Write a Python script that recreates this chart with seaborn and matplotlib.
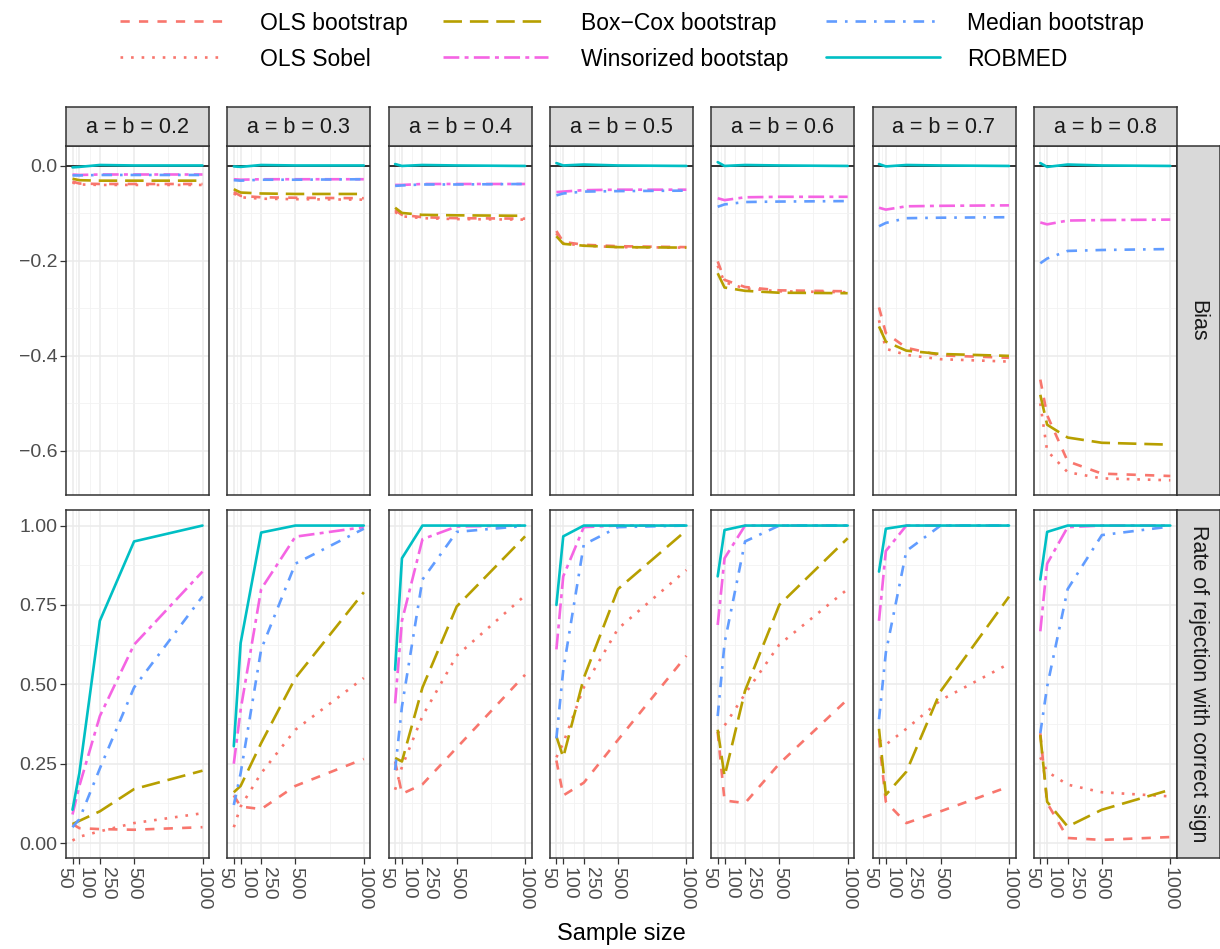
import numpy as np
import pandas as pd
import matplotlib
matplotlib.use("Agg")
import matplotlib.pyplot as plt
from matplotlib.lines import Line2D
from matplotlib.transforms import ScaledTranslation
import seaborn as sns

# ---------------------------------------------------------------- data
sample_sizes = [50, 100, 250, 500, 1000]
effect_sizes = [0.2, 0.3, 0.4, 0.5, 0.6, 0.7, 0.8]
strip_labels = [f"a = b = {e:.1f}" for e in effect_sizes]
methods = ["OLS bootstrap", "OLS Sobel", "Box\u2212Cox bootstrap",
           "Winsorized bootstap", "Median bootstrap", "ROBMED"]
row_labels = ["Bias", "Rate of rejection with correct sign"]

# bias: one list per effect size, values over sample_sizes
bias_ols_boot = [[-0.033, -0.037, -0.038, -0.038, -0.038],
                 [-0.055, -0.063, -0.066, -0.067, -0.068],
                 [-0.093, -0.103, -0.108, -0.110, -0.111],
                 [-0.137, -0.160, -0.166, -0.169, -0.171],
                 [-0.201, -0.240, -0.255, -0.262, -0.264],
                 [-0.298, -0.352, -0.383, -0.399, -0.404],
                 [-0.450, -0.525, -0.622, -0.648, -0.653]]
bias_ols_sobel = [[-0.035, -0.039, -0.040, -0.040, -0.040],
                  [-0.058, -0.066, -0.069, -0.070, -0.071],
                  [-0.097, -0.106, -0.110, -0.112, -0.113],
                  [-0.142, -0.163, -0.168, -0.171, -0.172],
                  [-0.210, -0.245, -0.258, -0.264, -0.266],
                  [-0.325, -0.385, -0.398, -0.407, -0.412],
                  [-0.500, -0.600, -0.645, -0.658, -0.662]]
bias_boxcox = [[-0.027, -0.030, -0.031, -0.031, -0.031],
               [-0.049, -0.056, -0.058, -0.059, -0.059],
               [-0.088, -0.099, -0.103, -0.104, -0.105],
               [-0.148, -0.164, -0.168, -0.171, -0.172],
               [-0.226, -0.256, -0.263, -0.267, -0.268],
               [-0.338, -0.370, -0.389, -0.396, -0.400],
               [-0.482, -0.545, -0.572, -0.583, -0.587]]
bias_winsor = [[-0.018, -0.019, -0.018, -0.018, -0.018],
               [-0.028, -0.029, -0.028, -0.028, -0.028],
               [-0.040, -0.040, -0.038, -0.038, -0.038],
               [-0.055, -0.054, -0.051, -0.050, -0.050],
               [-0.068, -0.072, -0.066, -0.065, -0.065],
               [-0.088, -0.092, -0.085, -0.084, -0.083],
               [-0.119, -0.123, -0.115, -0.114, -0.113]]
bias_median = [[-0.020, -0.020, -0.019, -0.019, -0.019],
               [-0.030, -0.031, -0.029, -0.029, -0.028],
               [-0.042, -0.041, -0.039, -0.039, -0.038],
               [-0.062, -0.058, -0.054, -0.053, -0.052],
               [-0.086, -0.081, -0.076, -0.075, -0.074],
               [-0.127, -0.120, -0.110, -0.109, -0.108],
               [-0.205, -0.195, -0.179, -0.177, -0.175]]
bias_robmed = [[-0.003, -0.002, 0.002, 0.001, 0.001],
               [-0.001, -0.002, 0.002, 0.001, 0.001],
               [0.004, 0.000, 0.002, 0.001, 0.000],
               [0.006, 0.001, 0.003, 0.001, 0.000],
               [0.008, 0.000, 0.002, 0.001, 0.000],
               [0.004, -0.001, 0.002, 0.001, 0.000],
               [0.006, -0.002, 0.003, 0.001, 0.000]]

# rate of rejection with correct sign
rej_ols_boot = [[0.060, 0.047, 0.044, 0.042, 0.050],
                [0.150, 0.115, 0.107, 0.180, 0.265],
                [0.257, 0.155, 0.185, 0.300, 0.530],
                [0.260, 0.150, 0.190, 0.325, 0.590],
                [0.350, 0.134, 0.126, 0.250, 0.453],
                [0.330, 0.130, 0.063, 0.100, 0.178],
                [0.346, 0.126, 0.016, 0.010, 0.019]]
rej_ols_sobel = [[0.008, 0.020, 0.037, 0.063, 0.094],
                 [0.050, 0.115, 0.220, 0.357, 0.520],
                 [0.168, 0.240, 0.400, 0.590, 0.780],
                 [0.270, 0.315, 0.490, 0.675, 0.860],
                 [0.346, 0.370, 0.470, 0.625, 0.800],
                 [0.325, 0.310, 0.360, 0.450, 0.565],
                 [0.270, 0.225, 0.184, 0.160, 0.147]]
rej_boxcox = [[0.060, 0.070, 0.100, 0.170, 0.228],
              [0.160, 0.180, 0.315, 0.520, 0.790],
              [0.268, 0.257, 0.490, 0.745, 0.966],
              [0.336, 0.270, 0.520, 0.800, 0.985],
              [0.357, 0.210, 0.480, 0.750, 0.960],
              [0.360, 0.152, 0.225, 0.478, 0.776],
              [0.340, 0.130, 0.052, 0.105, 0.168]]
rej_winsor = [[0.090, 0.180, 0.400, 0.625, 0.855],
              [0.250, 0.420, 0.800, 0.965, 0.995],
              [0.440, 0.700, 0.957, 0.997, 1.000],
              [0.610, 0.840, 0.995, 1.000, 1.000],
              [0.687, 0.897, 1.000, 1.000, 1.000],
              [0.700, 0.920, 1.000, 1.000, 1.000],
              [0.667, 0.880, 0.995, 1.000, 1.000]]
rej_median = [[0.050, 0.075, 0.235, 0.490, 0.777],
              [0.120, 0.220, 0.610, 0.880, 0.990],
              [0.230, 0.430, 0.830, 0.980, 0.999],
              [0.330, 0.545, 0.940, 0.995, 1.000],
              [0.400, 0.630, 0.950, 1.000, 1.000],
              [0.390, 0.600, 0.920, 1.000, 1.000],
              [0.346, 0.493, 0.800, 0.970, 0.997]]
rej_robmed = [[0.105, 0.220, 0.700, 0.950, 1.000],
              [0.305, 0.630, 0.978, 1.000, 1.000],
              [0.546, 0.897, 1.000, 1.000, 1.000],
              [0.750, 0.966, 1.000, 1.000, 1.000],
              [0.840, 0.986, 1.000, 1.000, 1.000],
              [0.855, 0.990, 1.000, 1.000, 1.000],
              [0.830, 0.980, 1.000, 1.000, 1.000]]

bias_by_method = [bias_ols_boot, bias_ols_sobel, bias_boxcox,
                  bias_winsor, bias_median, bias_robmed]
rej_by_method = [rej_ols_boot, rej_ols_sobel, rej_boxcox,
                 rej_winsor, rej_median, rej_robmed]

records = []
for metric, table in zip(row_labels, [bias_by_method, rej_by_method]):
    for m, per_effect in zip(methods, table):
        for e, vals in zip(effect_sizes, per_effect):
            for n, v in zip(sample_sizes, vals):
                records.append((metric, e, m, n, v))
df = pd.DataFrame(records, columns=["metric", "effect", "method", "n", "value"])

# ---------------------------------------------------------------- styling
palette = dict(zip(methods, ["#F8766D", "#F8766D", "#B79F00",
                             "#F564E3", "#619CFF", "#00BFC4"]))
dashes = dict(zip(methods, [(3.5, 3.5), (1, 3), (7, 3),
                            (6, 2, 1.5, 2), (4, 3, 1, 3), ""]))
LW = 1.9

sns.set_theme(style="white")
plt.rcParams["font.family"] = ["Liberation Sans", "DejaVu Sans"]
plt.rcParams["axes.unicode_minus"] = True

W, H = 1220, 949
fig = plt.figure(figsize=(W / 100, H / 100), dpi=100)
fig.patch.set_facecolor("white")


def rect(x0, y0, x1, y1):
    return [x0 / W, 1 - y1 / H, (x1 - x0) / W, (y1 - y0) / H]


def fx(x):
    return x / W


def fy(y):
    return 1 - y / H


col_left = [66 + i * 161.3 for i in range(7)]
panel_w = 143
row_y = [(146, 495), (510, 858)]
border = "#333333"
tick_col = "#4D4D4D"
strip_fs = 15.5

row_setup = [
    dict(ylim=(-0.693, 0.042), major=[-0.6, -0.4, -0.2, 0.0],
         minor=[-0.5, -0.3, -0.1],
         labels=["\u22120.6", "\u22120.4", "\u22120.2", "0.0"]),
    dict(ylim=(-0.047, 1.049), major=[0.0, 0.25, 0.5, 0.75, 1.0],
         minor=[0.125, 0.375, 0.625, 0.875],
         labels=["0.00", "0.25", "0.50", "0.75", "1.00"]),
]
x_minor = [75, 175, 375, 750]
# horizontal nudges (px) that keep the crowded small-n labels apart
x_label_shift = [-9, 6, 7.5, 0, 0]

for r, metric in enumerate(row_labels):
    y0, y1 = row_y[r]
    setup = row_setup[r]
    for c, eff in enumerate(effect_sizes):
        x0 = col_left[c]
        ax = fig.add_axes(rect(x0, y0, x0 + panel_w, y1))
        ax.set_facecolor("white")
        sub = df[(df.metric == metric) & (df.effect == eff)]
        if r == 0:
            ax.axhline(0, color="black", lw=1.1, zorder=1.5)
        sns.lineplot(data=sub, x="n", y="value", hue="method", style="method",
                     hue_order=methods, style_order=methods,
                     palette=palette, dashes=dashes, linewidth=LW,
                     legend=False, errorbar=None, ax=ax, zorder=2)
        ax.set_xlim(2.5, 1047.5)
        ax.set_ylim(*setup["ylim"])
        ax.set_xticks(sample_sizes)
        ax.set_xticks(x_minor, minor=True)
        ax.set_yticks(setup["major"])
        ax.set_yticks(setup["minor"], minor=True)
        ax.grid(True, which="major", color="#EBEBEB", lw=1.1, zorder=0)
        ax.grid(True, which="minor", color="#F2F2F2", lw=0.6, zorder=0)
        ax.set_axisbelow(True)
        ax.set_xlabel("")
        ax.set_ylabel("")
        for s in ax.spines.values():
            s.set_color(border)
            s.set_linewidth(1.1)
        ax.tick_params(which="minor", length=0)
        ax.tick_params(which="major", direction="out", length=4.3, width=0.9,
                       color=border, labelcolor=tick_col, labelsize=14,
                       pad=2, bottom=(r == 1), left=(c == 0),
                       labelbottom=(r == 1), labelleft=(c == 0))
        if c == 0:
            ax.set_yticklabels(setup["labels"])
        else:
            ax.set_yticklabels([])
        if r == 1:
            labs = ax.set_xticklabels([str(n) for n in sample_sizes],
                                      rotation=270, ha="center", va="top")
            for lab, dx in zip(labs, x_label_shift):
                lab.set_transform(lab.get_transform() +
                                  ScaledTranslation(dx / 100, 0,
                                                    fig.dpi_scale_trans))
        else:
            ax.set_xticklabels([])

        # column strip on top row
        if r == 0:
            sax = fig.add_axes(rect(x0, 107, x0 + panel_w, 146))
            sax.set_facecolor("#D9D9D9")
            sax.set_xticks([])
            sax.set_yticks([])
            for s in sax.spines.values():
                s.set_color(border)
                s.set_linewidth(1.1)
            sax.text(0.5, 0.47, strip_labels[c], ha="center", va="center",
                     fontsize=strip_fs, color="#1A1A1A",
                     transform=sax.transAxes)

    # row strip on the right
    rax = fig.add_axes(rect(1177, y0, 1219.5, y1))
    rax.set_facecolor("#D9D9D9")
    rax.set_xticks([])
    rax.set_yticks([])
    for s in rax.spines.values():
        s.set_color(border)
        s.set_linewidth(1.1)
    rax.text(0.5, 0.5, metric, rotation=270, ha="center", va="center",
             fontsize=strip_fs, color="#1A1A1A", transform=rax.transAxes)

fig.text(fx(621), fy(934), "Sample size", ha="center", va="center",
         fontsize=17, color="black")

# legend: three columns of two entries, placed across the top
key_x = [(120, 224), (443, 548), (826, 940)]
text_x = [260, 581, 967]
row_ys = [21, 57]
for i, m in enumerate(methods):
    col, row = divmod(i, 2)
    ky = fy(row_ys[row])
    ln = Line2D([fx(key_x[col][0]), fx(key_x[col][1])], [ky, ky],
                transform=fig.transFigure, color=palette[m], lw=LW,
                dashes=dashes[m] if dashes[m] else (None, None))
    fig.add_artist(ln)
    fig.text(fx(text_x[col]), ky, m, ha="left", va="center_baseline",
             fontsize=16.5, color="black")

fig.savefig("out.png", dpi=100, facecolor="white")
